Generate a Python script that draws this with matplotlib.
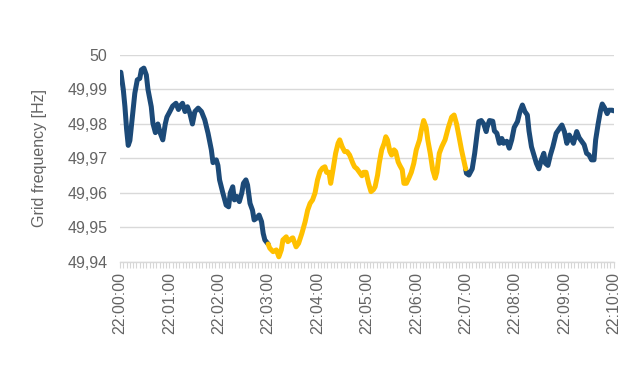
import matplotlib
matplotlib.use("Agg")
import matplotlib.pyplot as plt
from matplotlib.ticker import FuncFormatter, MultipleLocator
import numpy as np

# seconds after 22:00:00
seconds = [
    1, 4, 6, 8, 10, 12, 15, 18, 21, 24, 26, 29, 32, 34, 38, 40, 43, 45, 46, 49,
    52, 55, 57, 61, 64, 68, 71, 73, 76, 79, 82, 85, 88, 91, 95, 99, 103, 107, 111, 113,
    117, 119, 121, 125, 129, 132, 134, 137, 139, 142, 145, 148, 150, 153, 155, 158, 161, 163, 166, 169,
    172, 174, 176, 180,
    182, 186, 190, 193, 196, 198, 202, 204, 209, 210, 214, 217, 221, 225, 228, 231, 234, 237, 240, 243,
    246, 249, 251, 254, 256, 259, 262, 265, 267, 270, 273, 276, 279, 283, 285, 288, 291, 294, 296, 299,
    302, 305, 308, 310, 313, 315, 318, 321, 323, 325, 328, 330, 333, 335, 338, 340, 343, 345, 348, 351,
    354, 357, 360, 364, 366, 369, 372, 374, 377, 380, 383, 385, 388, 391, 395, 399, 403, 406, 409, 412,
    415, 420,
    421, 424, 428, 431, 434, 436, 439, 442, 445, 446, 449, 453, 455, 458, 461, 464, 466, 470, 473, 476,
    479, 483, 486, 489, 492, 495, 497, 500, 503, 506, 509, 512, 515, 517, 520, 523, 526, 530, 534, 537,
    540, 543, 546, 549, 551, 555, 558, 561, 564, 567, 570, 573, 576, 578, 581, 584, 586, 589, 592, 594,
    598, 600,
]
frequency = [
    49.9950, 49.9900, 49.9850, 49.9785, 49.9738, 49.9752, 49.9820, 49.9889, 49.9928, 49.9932,
    49.9957, 49.9962, 49.9942, 49.9900, 49.9850, 49.9802, 49.9775, 49.9788, 49.9800, 49.9773,
    49.9754, 49.9800, 49.9820, 49.9838, 49.9852, 49.9860, 49.9842, 49.9852, 49.9860, 49.9836,
    49.9850, 49.9830, 49.9800, 49.9836, 49.9846, 49.9836, 49.9812, 49.9773, 49.9725, 49.9688,
    49.9696, 49.9680, 49.9638, 49.9600, 49.9565, 49.9560, 49.9600, 49.9618, 49.9580, 49.9590,
    49.9575, 49.9600, 49.9628, 49.9638, 49.9623, 49.9570, 49.9550, 49.9522, 49.9527, 49.9536,
    49.9517, 49.9483, 49.9464, 49.9452,
    49.9440, 49.9430, 49.9435, 49.9415, 49.9435, 49.9464, 49.9473, 49.9459, 49.9469, 49.9470,
    49.9444, 49.9454, 49.9483, 49.9517, 49.9550, 49.9570, 49.9580, 49.9600, 49.9638, 49.9662,
    49.9672, 49.9676, 49.9660, 49.9660, 49.9628, 49.9670, 49.9715, 49.9744, 49.9754, 49.9734,
    49.9720, 49.9720, 49.9710, 49.9686, 49.9676, 49.9670, 49.9660, 49.9650, 49.9660, 49.9660,
    49.9628, 49.9604, 49.9610, 49.9618, 49.9652, 49.9686, 49.9725, 49.9744, 49.9763, 49.9754,
    49.9720, 49.9710, 49.9725, 49.9720, 49.9690, 49.9680, 49.9667, 49.9628, 49.9628, 49.9643,
    49.9660, 49.9686, 49.9725, 49.9754, 49.9780, 49.9810, 49.9790, 49.9754, 49.9715, 49.9667,
    49.9643, 49.9660, 49.9715, 49.9734, 49.9754, 49.9790, 49.9820, 49.9826, 49.9800, 49.9763,
    49.9725, 49.9670,
    49.9657, 49.9652, 49.9670, 49.9715, 49.9773, 49.9807, 49.9810, 49.9800, 49.9778, 49.9790,
    49.9810, 49.9808, 49.9780, 49.9773, 49.9744, 49.9758, 49.9744, 49.9750, 49.9730, 49.9754,
    49.9790, 49.9807, 49.9836, 49.9855, 49.9836, 49.9826, 49.9780, 49.9734, 49.9710, 49.9686,
    49.9670, 49.9696, 49.9715, 49.9686, 49.9680, 49.9710, 49.9734, 49.9773, 49.9787, 49.9797,
    49.9778, 49.9744, 49.9768, 49.9754, 49.9744, 49.9778, 49.9760, 49.9750, 49.9740, 49.9715,
    49.9710, 49.9696, 49.9696, 49.9754, 49.9800, 49.9840, 49.9858, 49.9846, 49.9830, 49.9840,
    49.9840, 49.9838,
]
highlight_start = 180  # 22:03:00
highlight_end = 420    # 22:07:00
y_ticks = [49.94, 49.95, 49.96, 49.97, 49.98, 49.99, 50.00]

BLUE = "#1C4A78"
YELLOW = "#FFC000"
GRAY = "#646464"

t = np.array(seconds)
f = np.array(frequency)

fig = plt.figure(figsize=(6.4, 3.7), dpi=100)
ax = fig.add_axes([0.1875, 0.2919, 0.7715, 0.5595])

m1 = t <= highlight_start
m2 = (t >= highlight_start) & (t <= highlight_end)
m3 = t >= highlight_end
kw = dict(lw=3.6, solid_joinstyle="round", solid_capstyle="round")
ax.plot(t[m1], f[m1], color=BLUE, zorder=3, **kw)
ax.plot(t[m3], f[m3], color=BLUE, zorder=3, **kw)
ax.plot(t[m2], f[m2], color=YELLOW, zorder=4, **kw)

ax.set_xlim(0, 600)
ax.set_ylim(49.94, 50.0)
ax.set_yticks(y_ticks)
ax.yaxis.set_major_formatter(FuncFormatter(lambda v, p: ("%g" % round(v, 2)).replace(".", ",")))
ax.xaxis.set_major_locator(MultipleLocator(60))
ax.xaxis.set_minor_locator(MultipleLocator(4))
ax.xaxis.set_major_formatter(FuncFormatter(lambda v, p: "22:%02d:%02d" % (int(v) // 60, int(v) % 60)))

ax.grid(axis="y", color="#D9D9D9", lw=1.0, zorder=0)
ax.set_axisbelow(True)
for s in ["top", "right", "left"]:
    ax.spines[s].set_visible(False)
ax.spines["bottom"].set_color("#D9D9D9")
ax.spines["bottom"].set_linewidth(1.0)

ax.tick_params(axis="y", length=0, pad=9, labelsize=11.5, labelcolor=GRAY)
ax.tick_params(axis="x", which="both", direction="out", length=4, color="#D6D6D6", width=0.8)
ax.tick_params(axis="x", which="major", pad=3, labelsize=11.5, labelcolor=GRAY, labelrotation=90)
for lab in ax.get_xticklabels() + ax.get_yticklabels():
    lab.set_fontfamily("Liberation Sans")

ax.set_ylabel("Grid frequency [Hz]", fontsize=11.5, color=GRAY, family="Liberation Sans", labelpad=15)

fig.savefig("out.png", dpi=100)
